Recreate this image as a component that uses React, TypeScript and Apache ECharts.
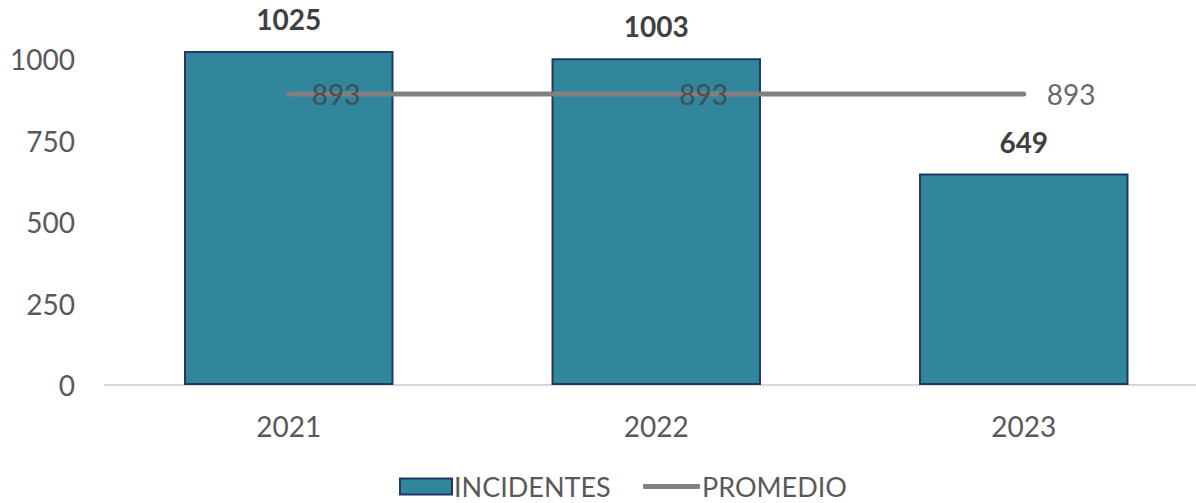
import React, { useEffect, useRef } from "react";
import * as echarts from "echarts";

const categories = ["2021", "2022", "2023"];
const incidentes = [1025, 1003, 649];
const promedio = [893, 893, 893];
const yTicks = [0, 250, 500, 750, 1000];

export default function App() {
  const ref = useRef<HTMLDivElement>(null);
  useEffect(() => {
    const chart = echarts.init(ref.current!, null, { renderer: "svg" });
    const font = "Lato, 'Open Sans', sans-serif";
    const legendText = { fontSize: 27, color: "#595959", fontFamily: font, padding: [0, 0, 0, -3] };
    chart.setOption({
      animation: false,
      textStyle: { fontFamily: font },
      grid: { left: 105, top: 26.6, width: 1102.5, height: 358.4, containLabel: false },
      legend: [
        {
          left: 394,
          top: 468,
          itemWidth: 52,
          itemHeight: 16,
          textStyle: legendText,
          data: [{ name: "INCIDENTES", icon: "rect" }],
        },
        {
          left: 638,
          top: 468,
          itemWidth: 57,
          itemHeight: 5,
          textStyle: legendText,
          data: [{ name: "PROMEDIO", icon: "roundRect" }],
        },
      ],
      xAxis: {
        type: "category",
        data: categories,
        axisLine: { lineStyle: { color: "#d9d9d9", width: 2 } },
        axisTick: { show: false },
        axisLabel: { fontSize: 28, color: "#595959", margin: 27, fontFamily: font },
      },
      yAxis: {
        type: "value",
        min: 0,
        max: 1100,
        interval: 250,
        splitLine: { show: false },
        axisLine: { show: false },
        axisTick: { show: false },
        axisLabel: {
          fontSize: 28,
          color: "#595959",
          margin: 30,
          fontFamily: font,
          showMaxLabel: false,
          formatter: (v: number) => (yTicks.includes(v) ? String(v) : ""),
        },
      },
      series: [
        {
          name: "INCIDENTES",
          type: "bar",
          data: incidentes,
          barWidth: "57%",
          itemStyle: { color: "#31859C", borderColor: "#1F3864", borderWidth: 2 },
          label: {
            show: true,
            position: "top",
            distance: 18,
            fontSize: 28,
            fontWeight: "bold",
            color: "#404040",
            fontFamily: font,
          },
          z: 1,
        },
        {
          name: "PROMEDIO",
          type: "line",
          data: promedio,
          symbol: "none",
          lineStyle: { color: "#808080", width: 5, cap: "round" },
          itemStyle: { color: "#808080" },
          z: 3,
        },
        {
          name: "PROMEDIO_LABELS",
          type: "scatter",
          data: promedio,
          symbolSize: 2,
          itemStyle: { color: "rgba(0,0,0,0)" },
          label: {
            show: true,
            position: "right",
            distance: 22,
            fontSize: 28,
            color: "#404040",
            fontFamily: font,
            offset: [0, 0],
          },
          z: 4,
        },
      ],
    });
    return () => chart.dispose();
  }, []);
  return (
    <div
      ref={ref}
      style={{ position: "fixed", left: 0, top: 0, width: 1212, height: 503, background: "#fff" }}
    />
  );
}
